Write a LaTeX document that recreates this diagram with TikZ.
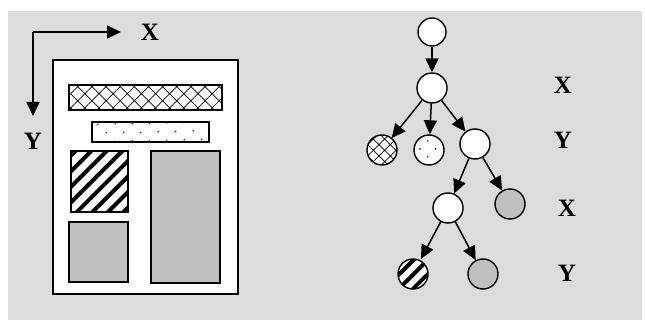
\documentclass[tikz,border=0pt]{standalone}
\usepackage{fontspec}
\setmainfont{Liberation Serif}
\usetikzlibrary{arrows.meta,patterns.meta}
\definecolor{bggray}{HTML}{DCDCDC}
\definecolor{boxgray}{HTML}{C0C0C0}

\begin{document}
\begin{tikzpicture}[x=1pt,y=-1pt,line join=miter,>={Triangle[length=14pt,width=13pt]}]
	\tikzset{box/.style={draw,line width=1.4pt},
		leaf/.style={circle,draw,line width=1.4pt,fill=white,minimum size=30pt,inner sep=0pt},
		link/.style={->,line width=1.5pt},
		lbl/.style={inner sep=0pt,font=\fontsize{25}{30}\selectfont\bfseries}}
	\useasboundingbox (0,0) rectangle (645,320);
	\fill[bggray] (8,11) rectangle (642,320);
	% page layout
	\coordinate (o) at (33,32);
	\coordinate (xend) at (121,32);
	\coordinate (yend) at (33,116);
	\draw[->,line width=1.6pt] (o)--(xend);
	\draw[->,line width=1.6pt] (o)--(yend);
	\node[lbl] (xl) at (150,32) {X};
	\node[lbl] (yl) at (33,141) {Y};
	\draw[box,fill=white] (53,60) rectangle (238,294);
	\draw[box,preaction={fill=white},pattern={Hatch[angle=45,distance=10pt,line width=0.7pt]}] (69,85) rectangle (222,110);
	\draw[box,preaction={fill=white},pattern={Dots[angle=45,distance=13pt,radius=0.9pt]}] (92,122) rectangle (209,142);
	\draw[box,preaction={fill=white},pattern={Lines[angle=45,distance=11pt,line width=4pt]}] (71,151) rectangle (128,212);
	\draw[box,fill=boxgray] (69,222) rectangle (128,282);
	\draw[box,fill=boxgray] (151,151) rectangle (220,283);
	% tree
	\node[leaf,minimum size=28pt] (r) at (432,32) {};
	\node[leaf] (a) at (432,88) {};
	\node[leaf,preaction={fill=white},pattern={Hatch[angle=45,distance=8pt,line width=0.7pt]}] (a1) at (382,150) {};
	\node[leaf,preaction={fill=white},pattern={Dots[angle=45,distance=11pt,radius=0.9pt]}] (a2) at (429,150) {};
	\node[leaf] (b) at (475,144) {};
	\node[leaf] (c) at (448,208) {};
	\node[leaf,fill=boxgray] (b2) at (510,204) {};
	\node[leaf,preaction={fill=white},pattern={Lines[angle=45,distance=10pt,line width=4pt]}] (c1) at (413,274) {};
	\node[leaf,fill=boxgray] (c2) at (483,274) {};
	\foreach \s/\t in {r/a,a/a1,a/a2,a/b,b/c,b/b2,c/c1,c/c2}
	\draw[link] (\s)--(\t);
	\node[lbl] (l1) at (563,85) {X};
	\node[lbl] (l2) at (563,140) {Y};
	\node[lbl] (l3) at (567,208) {X};
	\node[lbl] (l4) at (567,273) {Y};
\end{tikzpicture}
\end{document}
